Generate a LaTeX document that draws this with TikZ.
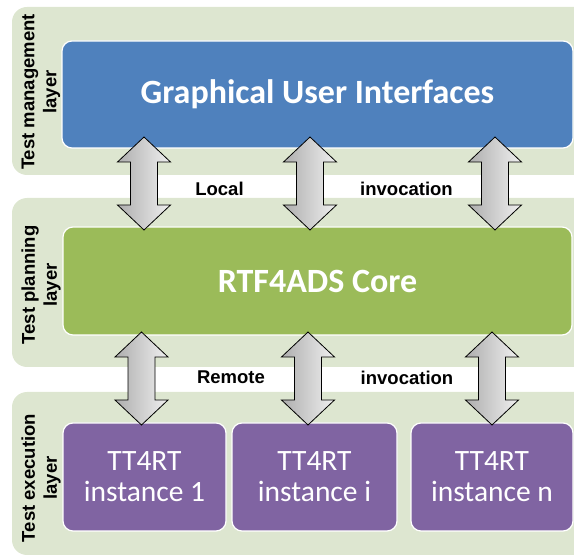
\documentclass[tikz,border=0pt]{standalone}
\usepackage{fontspec}
\setmainfont{Carlito}
\newfontfamily\labfont{Liberation Sans}
\definecolor{layerbg}{RGB}{221,230,208}
\definecolor{guiblue}{RGB}{79,129,189}
\definecolor{coregreen}{RGB}{155,187,89}
\definecolor{instpurple}{RGB}{128,100,162}
\begin{document}
\begin{tikzpicture}[x=1pt, y=-1pt,
        layer/.style={fill=layerbg, rounded corners=15pt, inner sep=0pt},
        box/.style={draw=white, line width=1.2pt, rounded corners=10pt, text=white, inner sep=0pt, align=center},
        bigtext/.style={font=\fontsize{34}{38}\selectfont\bfseries},
        insttext/.style={font=\fontsize{29.5}{31}\selectfont},
        sidelabel/.style={rotate=90, align=center, font=\labfont\fontsize{18.5}{22}\selectfont\bfseries},
        midlabel/.style={font=\labfont\fontsize{18.5}{22}\selectfont\bfseries},
        twoway/.style={draw=black, line width=0.8pt, left color=black!32, right color=black!6, line join=miter}]
        \pgfmathsetmacro\hw{26.5};
        \pgfmathsetmacro\sw{13.5};
        \pgfmathsetmacro\hl{25};

        \clip (0,0) rectangle (574,556);

        \node[layer, minimum width=578, minimum height=168] (mgmt) at (301,91) {};
        \node[layer, minimum width=578, minimum height=169] (plan) at (301,282.5) {};
        \node[layer, minimum width=578, minimum height=163] (exec) at (301,473.5) {};

        \node[sidelabel] (mgmtlab) at (41,92) {Test management\\layer};
        \node[sidelabel] (planlab) at (41,285) {Test planning\\layer};
        \node[sidelabel] (execlab) at (41,478) {Test execution\\layer};

        \node[box, bigtext, fill=guiblue, minimum width=511, minimum height=107] (gui) at (317.5,94.5) {Graphical User Interfaces};
        \node[box, bigtext, fill=coregreen, minimum width=509, minimum height=108] (core) at (317.5,281) {RTF4ADS Core};
        \node[box, insttext, fill=instpurple, minimum width=163, minimum height=108] (inst1) at (144.5,477) {TT4RT\\instance 1};
        \node[box, insttext, fill=instpurple, minimum width=165, minimum height=108] (insti) at (314.5,477) {TT4RT\\instance i};
        \node[box, insttext, fill=instpurple, minimum width=162, minimum height=108] (instn) at (492,477) {TT4RT\\instance n};

        \coordinate (l1a) at (144,137);
        \coordinate (l1b) at (144,230);
        \coordinate (l2a) at (310,137);
        \coordinate (l2b) at (310,230);
        \coordinate (l3a) at (495,137);
        \coordinate (l3b) at (495,230);
        \coordinate (r1a) at (141.5,332);
        \coordinate (r1b) at (141.5,425);
        \coordinate (r2a) at (308,332);
        \coordinate (r2b) at (308,425);
        \coordinate (r3a) at (492,332);
        \coordinate (r3b) at (492,425);

        \foreach \a/\b in {l1a/l1b, l2a/l2b, l3a/l3b, r1a/r1b, r2a/r2b, r3a/r3b}
            \draw[twoway] (\a) -- ([xshift=\hw pt, yshift=-\hl pt]\a) -- ([xshift=\sw pt, yshift=-\hl pt]\a)
                -- ([xshift=\sw pt, yshift=\hl pt]\b) -- ([xshift=\hw pt, yshift=\hl pt]\b) -- (\b)
                -- ([xshift=-\hw pt, yshift=\hl pt]\b) -- ([xshift=-\sw pt, yshift=\hl pt]\b)
                -- ([xshift=-\sw pt, yshift=-\hl pt]\a) -- ([xshift=-\hw pt, yshift=-\hl pt]\a) -- cycle;

        \node[midlabel] (local) at (219.5,188.5) {Local};
        \node[midlabel] (inv1) at (406.5,188.5) {invocation};
        \node[midlabel] (remote) at (231,377.5) {Remote};
        \node[midlabel] (inv2) at (407,377.5) {invocation};
    \end{tikzpicture}
\end{document}
